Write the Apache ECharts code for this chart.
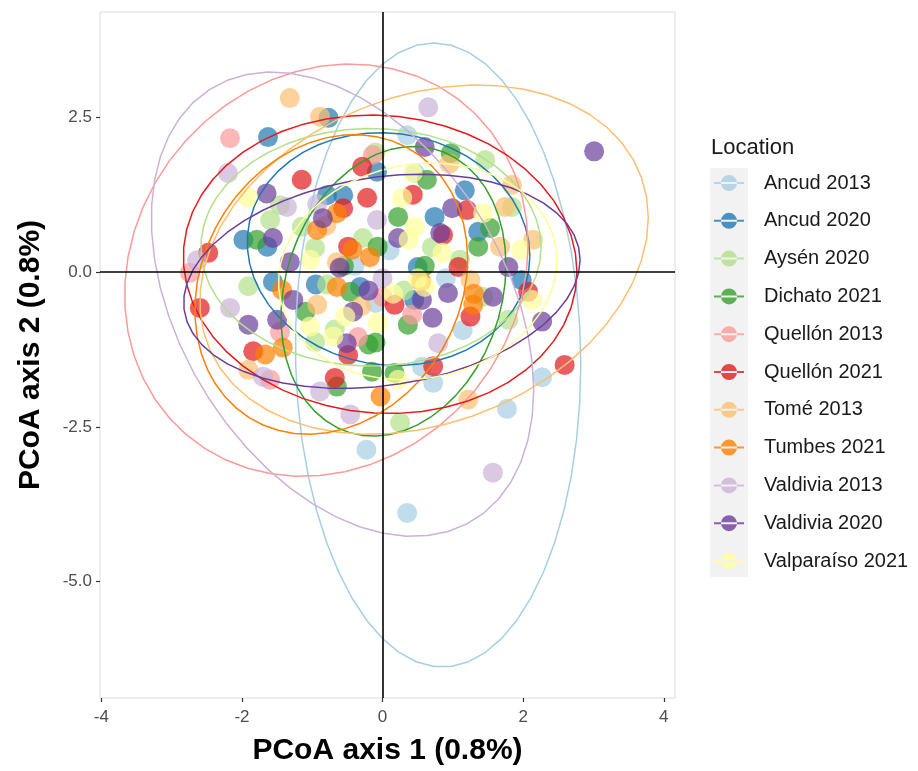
<!DOCTYPE html>
<html>
<head>
<meta charset="utf-8">
<script src="https://cdn.jsdelivr.net/npm/echarts@6/dist/echarts.min.js"></script>
<style>
html,body{margin:0;padding:0;background:#fff;}
#chart{width:918px;height:771px;}
</style>
</head>
<body>
<div id="chart"></div>
<script>
// ---------- data ----------
const categories = ['Ancud 2013','Ancud 2020','Aysén 2020','Dichato 2021','Quellón 2013','Quellón 2021','Tomé 2013','Tumbes 2021','Valdivia 2013','Valdivia 2020','Valparaíso 2021'];

const ancud2013 = [[0.35,-3.89],[-0.23,-2.87],[1.77,-2.21],[2.27,-1.70],[0.72,-1.79],[1.14,-0.94],[0.35,2.21],[0.46,1.60],[0.56,-1.53],[-0.10,-0.50],[0.10,0.35],[-0.40,0.10],[0.90,-0.10]];
const ancud2020 = [[-1.63,2.18],[-0.77,2.49],[-1.98,0.52],[-1.64,0.41],[-0.79,1.24],[-0.56,1.24],[-0.08,1.62],[1.17,1.32],[0.74,0.89],[1.36,0.65],[0.50,0.08],[1.98,-0.13],[-1.56,-0.16],[-0.32,-0.24],[0.45,-0.45],[-0.95,-0.20]];
const aysen2020 = [[-1.60,0.84],[-1.15,0.73],[-1.46,1.08],[-0.96,0.39],[-0.28,0.55],[-1.91,-0.23],[-0.79,-0.20],[-0.96,-1.13],[-0.68,-0.93],[1.46,1.81],[1.84,1.05],[1.79,-0.77],[0.25,-2.43],[1.43,-0.40],[-0.10,1.93],[0.30,-0.30],[1.10,0.20],[0.70,0.40]];
const dichato2021 = [[0.97,1.92],[0.63,1.49],[0.22,0.89],[1.53,0.71],[1.36,0.41],[-0.07,0.41],[-1.79,0.52],[-1.10,-0.64],[-0.20,-1.17],[-0.65,-1.85],[-0.46,-0.32],[0.36,-0.85],[-0.15,-1.61],[0.17,-1.63],[-0.10,-1.14],[-0.55,0.10],[0.60,0.10]];
const quellon2013 = [[-2.17,2.16],[-2.74,-0.01],[-1.60,-1.74],[-0.14,1.89],[0.42,-0.69],[-1.46,-0.97],[-0.35,-1.05],[0.00,-0.40]];
const quellon2021 = [[-1.15,1.49],[-0.29,1.70],[-0.22,1.20],[-2.48,0.31],[-0.56,1.03],[-0.49,0.41],[0.43,1.25],[1.20,1.00],[0.86,0.60],[1.08,0.08],[-2.60,-0.58],[-1.84,-1.28],[-0.68,-1.71],[-0.49,-1.34],[1.25,-0.72],[0.72,-1.52],[2.59,-1.50],[2.07,-0.32],[0.17,-0.53]];
const tome2013 = [[-1.32,2.81],[-0.89,2.51],[1.22,-2.06],[1.84,1.41],[1.74,1.05],[2.14,0.52],[1.67,0.41],[-0.93,-0.53],[-1.91,-1.58],[1.25,-0.13],[-0.65,0.16],[-0.80,0.75],[0.95,1.75],[-0.30,-0.55]];
const tumbes2021 = [[-0.93,0.68],[-0.43,0.36],[-0.18,0.24],[-0.65,0.95],[-1.43,-0.29],[-1.67,-1.33],[-1.42,-1.22],[-0.65,-0.24],[1.29,-0.53],[-0.03,-2.01],[1.30,-0.35],[0.55,-0.15]];
const valdivia2013 = [[0.65,2.66],[-2.20,1.60],[-1.36,1.05],[-2.17,-0.58],[-0.89,-1.93],[-0.46,-2.30],[1.57,-3.24],[0.79,-1.15],[-1.70,-1.69],[-0.08,0.84],[-0.93,1.10],[-2.64,0.19],[0.00,-0.10]];
const valdivia2020 = [[-1.65,1.27],[-1.56,0.55],[-0.85,0.87],[-1.32,0.16],[-0.61,0.07],[0.60,2.02],[0.99,1.03],[0.22,0.55],[0.82,0.63],[1.79,0.08],[-1.91,-0.85],[-1.27,-0.45],[-1.50,-0.77],[-0.51,-1.15],[-0.42,-0.64],[0.71,-0.74],[0.93,-0.34],[2.27,-0.80],[1.57,-0.40],[3.01,1.95],[0.56,-0.45],[-0.20,-0.30]];
const valparaiso2021 = [[-1.91,1.20],[-1.03,0.20],[0.28,1.20],[0.43,1.60],[0.46,0.73],[0.37,0.52],[0.85,0.31],[1.43,0.95],[0.60,-0.24],[2.13,-0.45],[0.22,-1.74],[-1.03,-0.88],[-0.70,-1.04],[-0.53,-0.72],[-0.07,-0.82],[1.97,0.36],[0.50,-0.10],[0.15,-0.35]];

const groupPoints = [ancud2013, ancud2020, aysen2020, dichato2021, quellon2013, quellon2021, tome2013, tumbes2021, valdivia2013, valdivia2020, valparaiso2021];

// 95% ellipses (stat_ellipse): centre, half-width, half-height, tilt factor
const ellipseCx = [0.79, 0.085, -0.165, 0.155, -0.80, -0.035, 0.59, -0.73, -0.57, -0.01, 0.50];
const ellipseCy = [-1.34, 0.37, 0.40, -0.31, 0.03, 0.125, 0.20, -0.20, -0.52, -0.15, 0.01];
const ellipseW  = [2.03, 2.01, 2.42, 1.60, 2.87, 2.80, 3.19, 1.94, 2.72, 2.82, 1.98];
const ellipseH  = [5.04, 1.88, 1.92, 2.34, 3.33, 2.41, 2.82, 2.42, 3.75, 1.73, 1.75];
const ellipseK  = [-0.03, -0.06, 0.0, 0.18, 0.12, -0.05, 0.24, 0.17, -0.37, 0.2, 0.1];

const xTicks = [-4, -2, 0, 2, 4];
const yTicks = [-5, -2.5, 0, 2.5];
const refX = 0, refY = 0;

// ---------- style ----------
const palette = ['#A6CEE3','#1F78B4','#B2DF8A','#33A02C','#FB9A99','#E31A1C','#FDBF6F','#FF7F00','#CAB2D6','#6A3D9A','#FFFF99'];
const FONT = '"Liberation Sans", Arial, sans-serif';
const SEG = 51;

function ellipsePath(i) {
  const pts = [];
  const s = Math.sqrt(1 - ellipseK[i] * ellipseK[i]);
  for (let j = 0; j <= SEG; j++) {
    const t = 2 * Math.PI * j / SEG;
    pts.push([ellipseCx[i] + ellipseW[i] * Math.cos(t),
              ellipseCy[i] + ellipseH[i] * (ellipseK[i] * Math.cos(t) + s * Math.sin(t))]);
  }
  return pts;
}

const series = [];
categories.forEach((name, i) => {
  series.push({
    name: name, type: 'scatter', data: groupPoints[i],
    symbol: 'circle', symbolSize: 20,
    itemStyle: { color: palette[i], opacity: 0.7 },
    z: 2, silent: true
  });
});
// reference lines
series.push({
  type: 'scatter', data: [], silent: true, z: 3,
  markLine: {
    silent: true, symbol: ['none','none'], label: { show: false },
    lineStyle: { color: '#000', width: 1.6, type: 'solid' },
    data: [{ xAxis: refX }, { yAxis: refY }]
  }
});
categories.forEach((name, i) => {
  series.push({
    name: name, type: 'line', data: ellipsePath(i),
    showSymbol: false, symbol: 'none', smooth: false,
    lineStyle: { color: palette[i], width: 1.5 },
    itemStyle: { color: palette[i] },
    z: 4, silent: true
  });
});

const legendIcon = 'path://M0,7L30,7L30,9L0,9Z M7,8A8,8,0,1,0,23,8A8,8,0,1,0,7,8Z';

const option = {
  animation: false,
  backgroundColor: '#fff',
  textStyle: { fontFamily: FONT },
  title: {
    text: 'Location', left: 711, top: 137, padding: 0,
    textStyle: { fontFamily: FONT, fontSize: 22, fontWeight: 'normal', color: '#1a1a1a' }
  },
  grid: { left: 100, top: 12, width: 575, height: 687, show: true, borderColor: '#dcdcdc', borderWidth: 1, backgroundColor: 'transparent' },
  xAxis: {
    type: 'value', min: -4.02, max: 4.16,
    name: 'PCoA axis 1 (0.8%)', nameLocation: 'middle', nameGap: 38,
    nameTextStyle: { fontFamily: FONT, fontSize: 30, fontWeight: 'bold', color: '#000' },
    axisLine: { show: false, onZero: false },
    axisTick: { show: true, length: 4, lineStyle: { color: '#333', width: 1.2 }, customValues: xTicks },
    axisLabel: { color: '#4d4d4d', fontSize: 17, fontFamily: FONT, margin: 11, customValues: xTicks, formatter: v => String(v) },
    splitLine: { show: false }
  },
  yAxis: {
    type: 'value', min: -6.88, max: 4.20,
    name: 'PCoA axis 2 (0.8%)', nameLocation: 'middle', nameGap: 54,
    nameTextStyle: { fontFamily: FONT, fontSize: 30, fontWeight: 'bold', color: '#000' },
    axisLine: { show: false, onZero: false },
    axisTick: { show: true, length: 4, lineStyle: { color: '#333', width: 1.2 }, customValues: yTicks },
    axisLabel: { color: '#4d4d4d', fontSize: 17, fontFamily: FONT, margin: 8, customValues: yTicks, formatter: v => v.toFixed(1) },
    splitLine: { show: false }
  },
  legend: {
    orient: 'vertical', left: 714, top: 173, padding: 0,
    itemWidth: 30, itemHeight: 16, itemGap: 17.8,
    textStyle: { fontFamily: FONT, fontSize: 20, color: '#1a1a1a', padding: [0, 0, 0, 15] },
    selectedMode: false,
    data: categories.map((n, i) => ({ name: n, icon: legendIcon, itemStyle: { color: palette[i], opacity: 0.8 } }))
  },
  graphic: [{
    type: 'rect', left: 710, top: 168, z: -1,
    shape: { width: 38, height: 409 },
    style: { fill: '#f2f2f2' }
  }],
  series: series
};

const chart = echarts.init(document.getElementById('chart'), null, { renderer: 'canvas' });
chart.setOption(option);
</script>
</body>
</html>
